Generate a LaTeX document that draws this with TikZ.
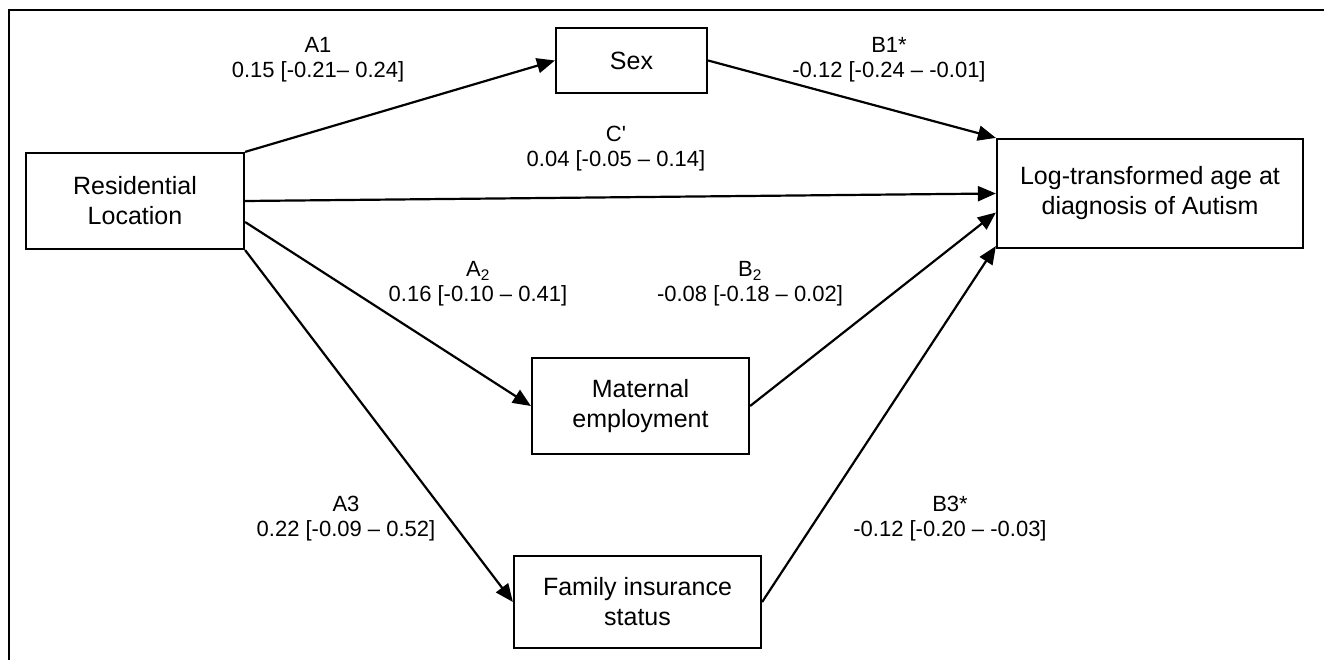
\documentclass[tikz,border=0pt]{standalone}
\usepackage{fontspec}
\setmainfont{Liberation Sans}
\usetikzlibrary{arrows.meta}

\tikzset{
  varbox/.style={draw,line width=2.2pt,rectangle,align=center,
    font=\fontsize{25}{30}\selectfont},
  coef/.style={align=center,font=\fontsize{22}{25}\selectfont},
  path/.style={line width=2.2pt,-{Triangle[length=18pt,width=15pt]}}
}

\begin{document}
\begin{tikzpicture}[x=1pt,y=-1pt]
\useasboundingbox (0,0) rectangle (1324,660);

% frame
\draw[line width=2.4pt] (9,660) -- (9,10) -- (1324,10);

% variables
\node[varbox,minimum width=218pt,minimum height=96pt] (res) at (135,201) {Residential\\Location};
\node[varbox,minimum width=151pt,minimum height=65pt] (sex) at (631.5,60.5) {Sex};
\node[varbox,minimum width=306pt,minimum height=109pt] (outc) at (1150,193.5) {Log-transformed age at\\diagnosis of Autism};
\node[varbox,minimum width=217pt,minimum height=96pt] (mat) at (640.5,406) {Maternal\\employment};
\node[varbox,minimum width=247pt,minimum height=92pt] (fam) at (637.5,602) {Family insurance\\status};

% paths through sex
\draw[path] (res.north east) -- (sex.west);
\draw[path] (sex.east) -- (outc.north west);

% direct path
\draw[path] (res.east) -- (outc.west);

% paths through maternal employment
\draw[path] ([yshift=-21pt]res.east) -- (mat.west);
\draw[path] (mat.east) -- ([yshift=-19pt]outc.west);

% paths through family insurance
\draw[path] (res.south east) -- (fam.west);
\draw[path] (fam.east) -- ([yshift=3pt]outc.south west);

% coefficients
\node[coef] (a1) at (318,60) {A1\\0.15 [-0.21-- 0.24]};
\node[coef] (b1) at (889,60) {B1*\\-0.12 [-0.24 -- -0.01]};
\node[coef] (c) at (616,149) {C\textquotesingle\\0.04 [-0.05 -- 0.14]};
\node[coef] (a2) at (478,284) {A\textsubscript{2}\\0.16 [-0.10 -- 0.41]};
\node[coef] (b2) at (750,284) {B\textsubscript{2}\\-0.08 [-0.18 -- 0.02]};
\node[coef] (a3) at (346,519) {A3\\0.22 [-0.09 -- 0.52]};
\node[coef] (b3) at (950,519) {B3*\\-0.12 [-0.20 -- -0.03]};
\end{tikzpicture}
\end{document}
